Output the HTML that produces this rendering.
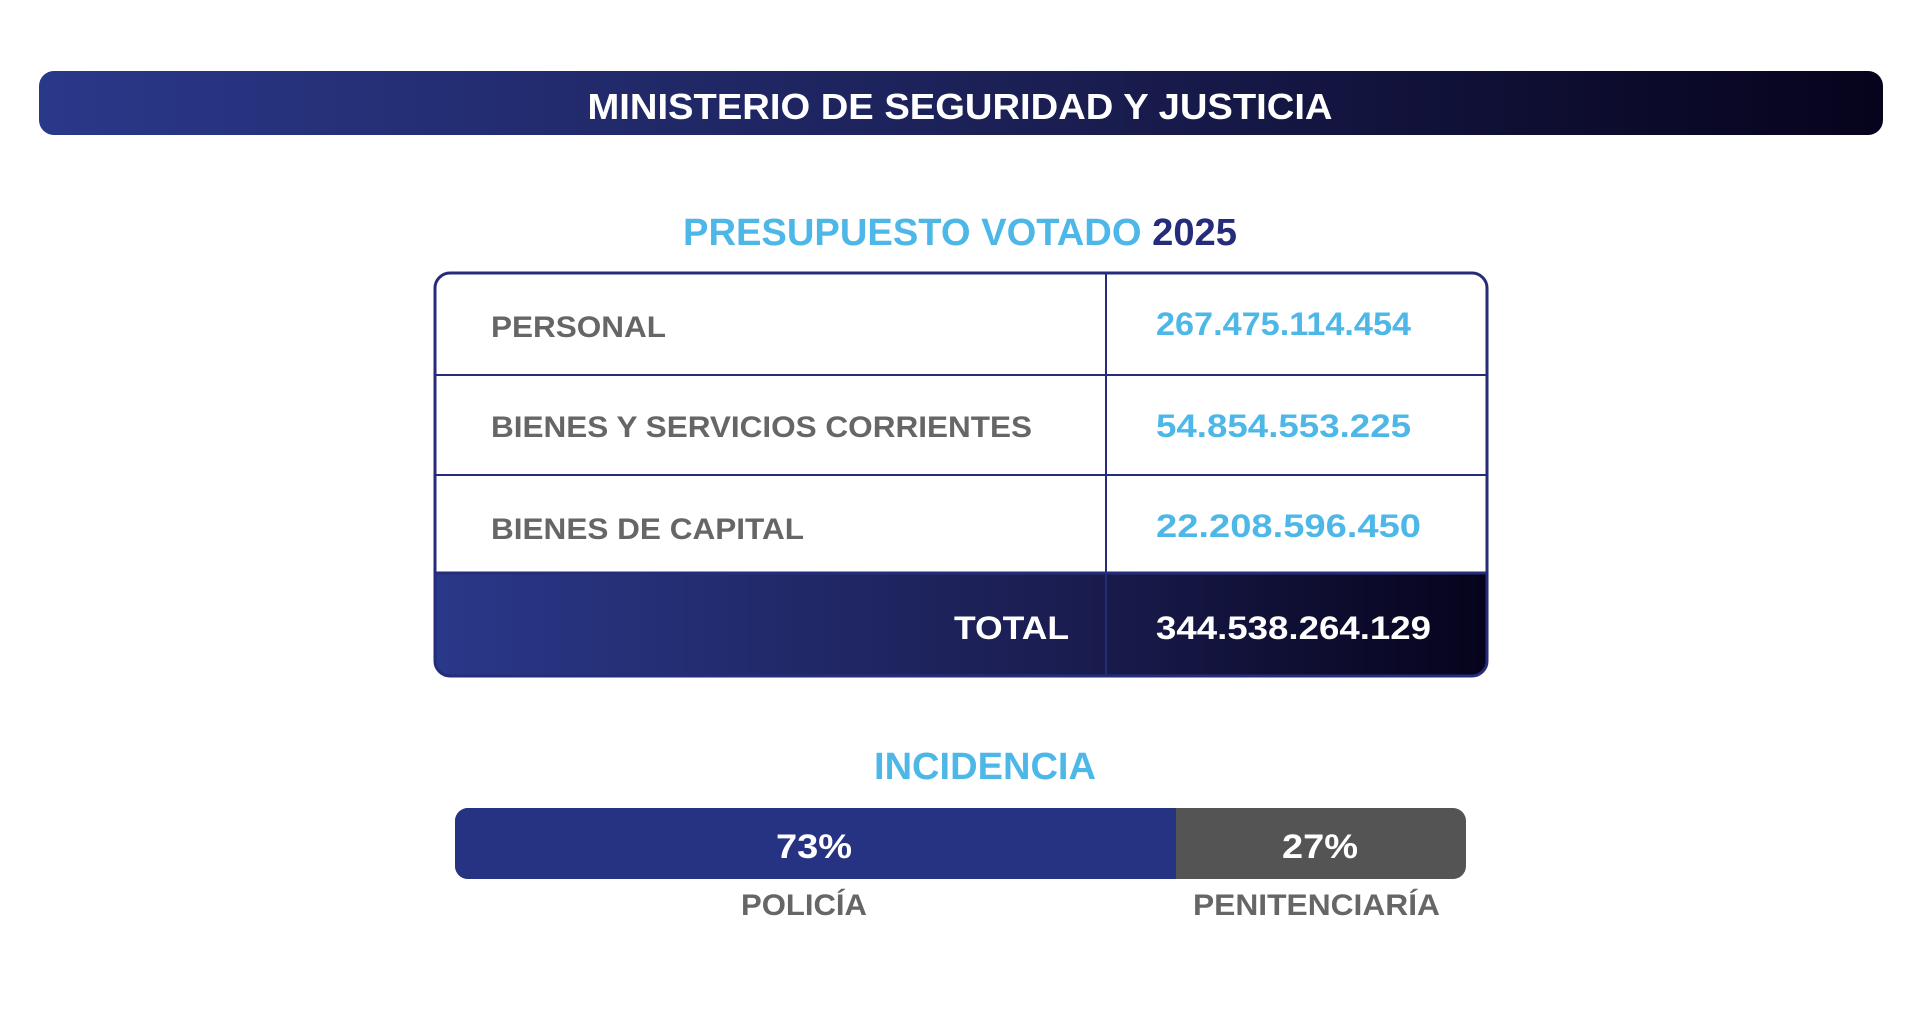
<!DOCTYPE html>
<html><head><meta charset="utf-8"><style>
html,body{margin:0;padding:0;background:#fff;width:1920px;height:1034px;overflow:hidden}
svg text{font-family:"Liberation Sans",sans-serif;font-weight:bold}
</style></head><body>
<svg width="1920" height="1034" viewBox="0 0 1920 1034" xmlns="http://www.w3.org/2000/svg">
<defs>
<linearGradient id="g" x1="0" y1="0" x2="1" y2="0">
<stop offset="0" stop-color="#2a3889"/><stop offset="0.5" stop-color="#1c2158"/><stop offset="1" stop-color="#06031c"/>
</linearGradient>
<linearGradient id="g2" x1="0" y1="0" x2="1" y2="0">
<stop offset="0" stop-color="#2a3889"/><stop offset="0.6" stop-color="#1a1d50"/><stop offset="1" stop-color="#06031c"/>
</linearGradient>
<clipPath id="tc"><rect x="435" y="273" width="1052" height="403" rx="15"/></clipPath>
</defs>
<rect x="39" y="71" width="1844" height="64" rx="15" fill="url(#g)"/>
<text x="960" y="119" fill="#fff" font-size="36" text-anchor="middle" textLength="745" lengthAdjust="spacingAndGlyphs">MINISTERIO DE SEGURIDAD Y JUSTICIA</text>

<text x="683" y="245" font-size="38" fill="#4db8e8" textLength="554" lengthAdjust="spacingAndGlyphs">PRESUPUESTO VOTADO <tspan fill="#252d7a">2025</tspan></text>

<g clip-path="url(#tc)">
<rect x="435" y="273" width="1052" height="403" fill="#fff"/>
<rect x="435" y="573" width="1052" height="103" fill="url(#g2)"/>
</g>
<line x1="435" y1="375" x2="1487" y2="375" stroke="#252d7a" stroke-width="2"/>
<line x1="435" y1="475" x2="1487" y2="475" stroke="#252d7a" stroke-width="2"/>
<line x1="435" y1="573" x2="1487" y2="573" stroke="#252d7a" stroke-width="3"/>
<line x1="1106" y1="273" x2="1106" y2="676" stroke="#252d7a" stroke-width="2"/>
<rect x="435" y="273" width="1052" height="403" rx="15" fill="none" stroke="#252d7a" stroke-width="3"/>

<g font-size="30" fill="#666">
<text x="491" y="337" textLength="175" lengthAdjust="spacingAndGlyphs">PERSONAL</text>
<text x="491" y="437" textLength="541" lengthAdjust="spacingAndGlyphs">BIENES Y SERVICIOS CORRIENTES</text>
<text x="491" y="539" textLength="313" lengthAdjust="spacingAndGlyphs">BIENES DE CAPITAL</text>
</g>
<g font-size="32" fill="#4db8e8">
<text x="1156" y="335" textLength="255" lengthAdjust="spacingAndGlyphs">267.475.114.454</text>
<text x="1156" y="437" textLength="255" lengthAdjust="spacingAndGlyphs">54.854.553.225</text>
<text x="1156" y="537" textLength="265" lengthAdjust="spacingAndGlyphs">22.208.596.450</text>
</g>
<text x="954" y="639" font-size="32" fill="#fff" textLength="115" lengthAdjust="spacingAndGlyphs">TOTAL</text>
<text x="1156" y="639" font-size="32" fill="#fff" textLength="275" lengthAdjust="spacingAndGlyphs">344.538.264.129</text>

<text x="874" y="779" font-size="38" fill="#4db8e8" textLength="222" lengthAdjust="spacingAndGlyphs">INCIDENCIA</text>

<rect x="455" y="808" width="1011" height="71" rx="13" fill="#555454"/>
<path d="M468 808 H1176 V879 H468 A13 13 0 0 1 455 866 V821 A13 13 0 0 1 468 808 Z" fill="#263382"/>
<text x="814" y="858" font-size="34" fill="#fff" text-anchor="middle" textLength="76" lengthAdjust="spacingAndGlyphs">73%</text>
<text x="1320" y="858" font-size="34" fill="#fff" text-anchor="middle" textLength="76" lengthAdjust="spacingAndGlyphs">27%</text>
<text x="741" y="915" font-size="30" fill="#666" textLength="126" lengthAdjust="spacingAndGlyphs">POLICÍA</text>
<text x="1193" y="915" font-size="30" fill="#666" textLength="247" lengthAdjust="spacingAndGlyphs">PENITENCIARÍA</text>
</svg>
</body></html>
